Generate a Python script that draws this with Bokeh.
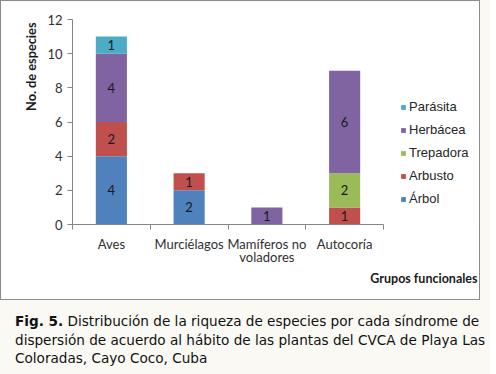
import numpy as np
from bokeh.plotting import figure
from bokeh.layouts import column
from bokeh.models import (ColumnDataSource, Range1d, FixedTicker, Legend, LegendItem,
                          Title, Div)
from bokeh.core.properties import value
from bokeh.embed import file_html
from bokeh.resources import INLINE

# ---- data ----
groups = ["Aves", "Murciélagos", "Mamíferos no\nvoladores", "Autocoría"]
habits = ["Árbol", "Arbusto", "Trepadora", "Herbácea", "Parásita"]
arbol = [4, 2, 0, 0]
arbusto = [2, 1, 0, 1]
trepadora = [0, 0, 0, 2]
herbacea = [4, 0, 1, 6]
parasita = [1, 0, 0, 0]
colors = ["#4F81BD", "#C0504D", "#9BBB59", "#8064A2", "#4BACC6"]
y_ticks = [0, 2, 4, 6, 8, 10, 12]
caption_bold = "Fig. 5."
caption_text = ("Distribución de la riqueza de especies por cada síndrome de<br>"
                "dispersión de acuerdo al hábito de las plantas del CVCA de Playa Las<br>"
                "Coloradas, Cayo Coco, Cuba")

series = [arbol, arbusto, trepadora, herbacea, parasita]
n = len(groups)
xs = [i + 0.5 for i in range(n)]
data = {"x": xs}
for h, s in zip(habits, series):
    data[h] = s
src = ColumnDataSource(data)

PAGE_BG = "#FAF9F3"
W, H = 480, 300
ML, MR, MT = 71, 8, 18
FRAME_H = 205
MB = H - MT - FRAME_H
AXIS_PX = 311  # pixel length of the category axis
x_end = n * (W - ML - MR) / AXIS_PX  # frame extends right to hold the legend

p = figure(width=W, height=H, output_backend="svg", toolbar_location=None,
           x_range=Range1d(0, x_end), y_range=Range1d(0, 12),
           min_border_left=ML, min_border_right=MR, min_border_top=MT, min_border_bottom=MB,
           outline_line_color=None, background_fill_color="white",
           border_fill_color="white")
p.styles = {"border": "1px solid #8C8C8C"}

rs = p.vbar_stack(habits, x="x", width=0.4, color=colors, source=src, line_color=None)

# data labels
lx, ly, lt = [], [], []
for i in range(n):
    bottom = 0
    for s in series:
        v = s[i]
        if v > 0:
            lx.append(xs[i]); ly.append(bottom + v / 2); lt.append(str(v))
        bottom += v
p.text(x=lx, y=ly, text=lt, text_align="center", text_baseline="middle",
       text_font=value("Lato"), text_font_size="13px", text_color="#1A1A1A")

# axes
p.xgrid.visible = False
p.ygrid.visible = False
ax = p.xaxis[0]
ax.bounds = (0, n)
ax.ticker = FixedTicker(ticks=xs, minor_ticks=list(range(n + 1)))
ax.major_label_overrides = {x: g for x, g in zip(xs, groups)}
ax.major_tick_line_color = None
ax.minor_tick_line_color = "#868686"
ax.minor_tick_in = 0
ax.minor_tick_out = 5
ax.axis_line_color = "#868686"
ax.major_label_standoff = 5
ax.major_label_text_font = "Lato"
ax.major_label_text_font_size = "13px"
ax.major_label_text_line_height = 0.85
ax.major_label_text_color = "#303030"

ay = p.yaxis[0]
ay.ticker = FixedTicker(ticks=y_ticks, minor_ticks=[])
ay.axis_line_color = "#868686"
ay.major_tick_line_color = "#868686"
ay.major_tick_in = 0
ay.major_tick_out = 5
ay.minor_tick_line_color = None
ay.major_label_standoff = 5
ay.major_label_text_font = "Lato"
ay.major_label_text_font_size = "13px"
ay.major_label_text_color = "#303030"

# axis titles
p.add_layout(Title(text="No. de especies", align="right", offset=3, standoff=12,
                   text_font="Lato", text_font_style="bold", text_font_size="12.75px",
                   text_color="#1A1A1A"), "left")
p.add_layout(Title(text="Grupos funcionales", align="right", offset=-4, standoff=1,
                   text_font="Lato", text_font_style="bold", text_font_size="12.5px",
                   text_color="#1A1A1A"), "below")

# legend (top item = Parásita)
items = [LegendItem(label=h, renderers=[r]) for h, r in zip(habits, rs)][::-1]
leg = Legend(items=items, location=(328, 18), orientation="vertical",
             glyph_width=6, glyph_height=6, label_standoff=3,
             label_text_font="Liberation Sans", label_text_font_size="13px",
             label_text_color="#262626", label_height=15, spacing=8,
             padding=0, margin=0, border_line_color=None, background_fill_alpha=0)
p.add_layout(leg)

cap = Div(text=f"<b>{caption_bold}</b> {caption_text}", width=480, height=66,
          styles={"font-family": "DejaVu Sans", "font-size": "13.6px", "line-height": "18.5px",
                  "color": "#111111", "background-color": PAGE_BG,
                  "padding-left": "10px", "padding-top": "7px", "box-sizing": "border-box",
                  "white-space": "nowrap"})

layout = column(p, cap, spacing=0, styles={"background-color": PAGE_BG})
open("out.html", "w").write(file_html(layout, INLINE))
